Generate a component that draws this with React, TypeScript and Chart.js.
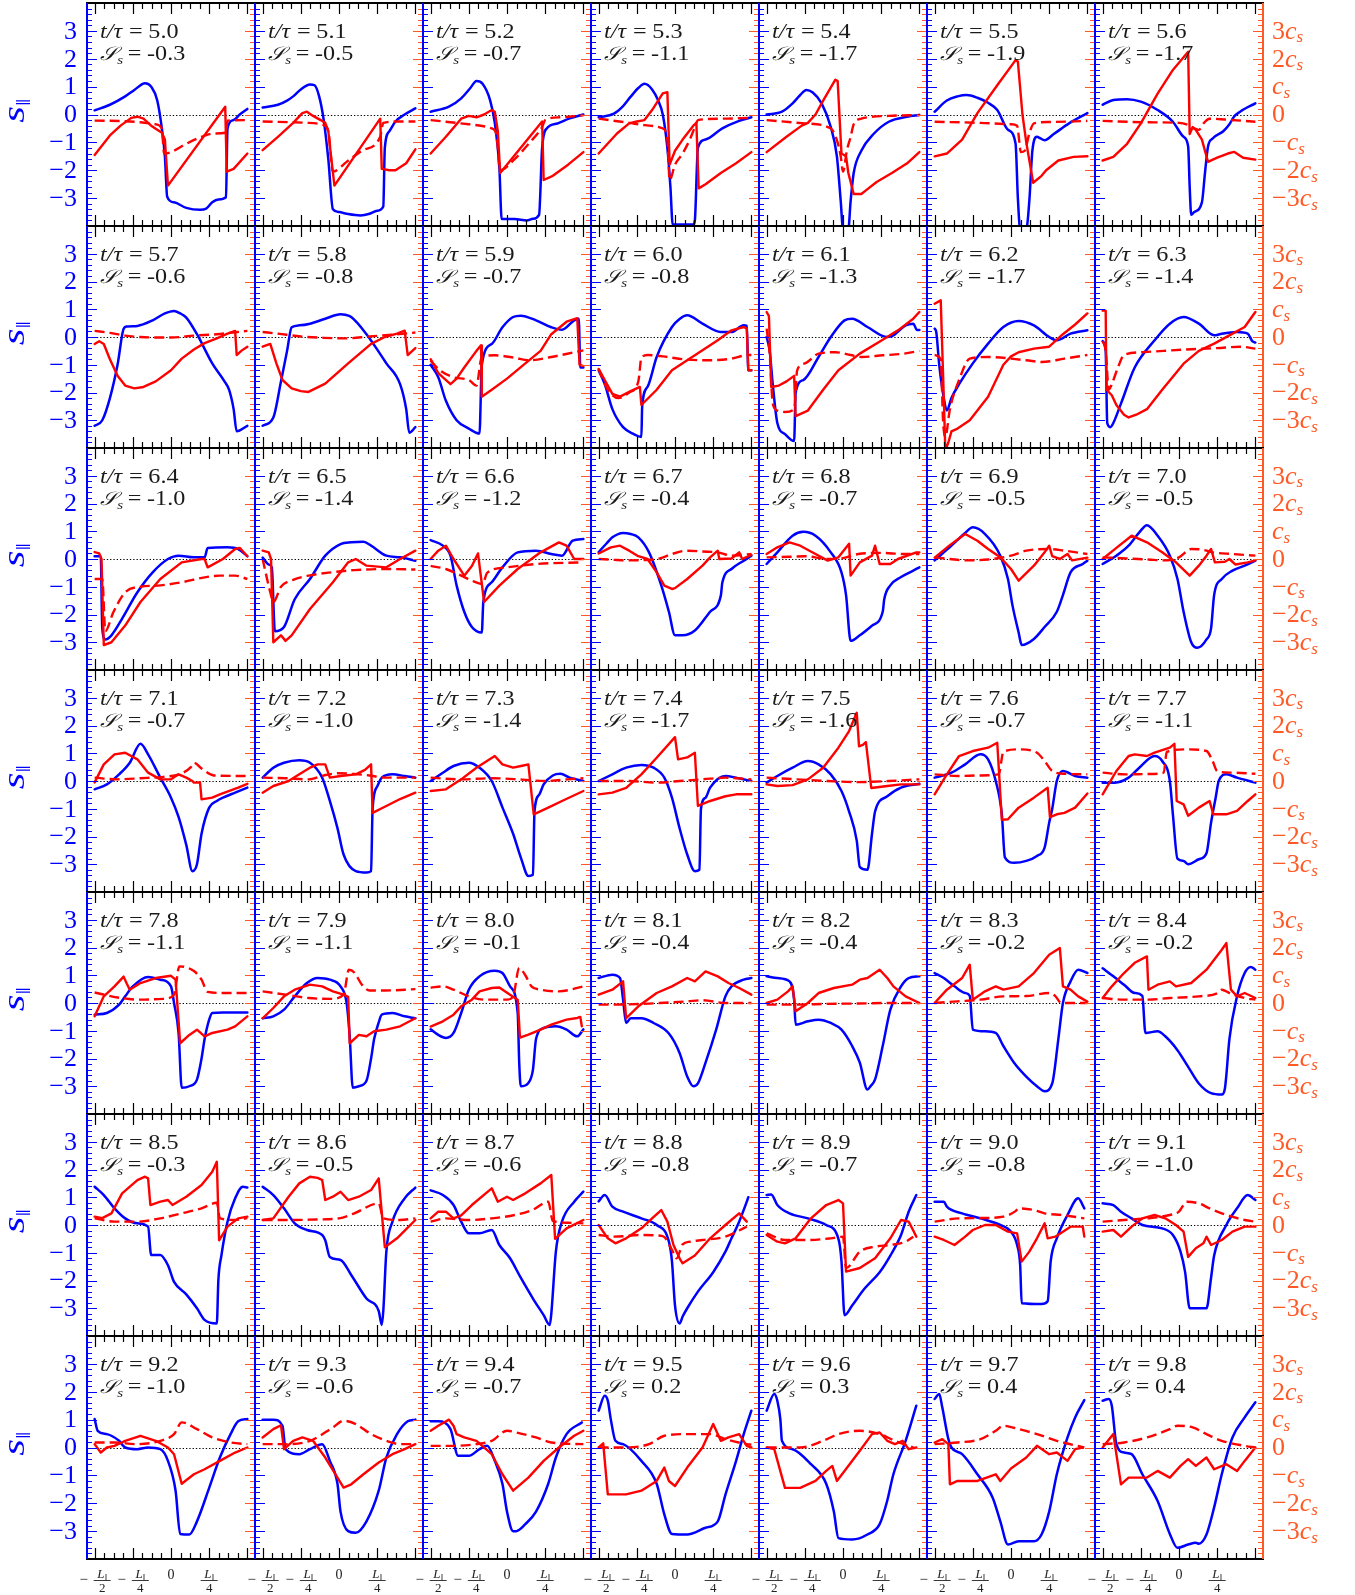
import React, { useEffect, useRef } from 'react';
import { Chart, registerables } from 'chart.js';
Chart.register(...registerables);

// ---------- labels ----------
const TIMES = ['5.0','5.1','5.2','5.3','5.4','5.5','5.6','5.7','5.8','5.9','6.0','6.1','6.2','6.3','6.4','6.5','6.6','6.7','6.8','6.9','7.0','7.1','7.2','7.3','7.4','7.5','7.6','7.7','7.8','7.9','8.0','8.1','8.2','8.3','8.4','8.5','8.6','8.7','8.8','8.9','9.0','9.1','9.2','9.3','9.4','9.5','9.6','9.7','9.8'];
const S_VALUES = ['-0.3','-0.5','-0.7','-1.1','-1.7','-1.9','-1.7','-0.6','-0.8','-0.7','-0.8','-1.3','-1.7','-1.4','-1.0','-1.4','-1.2','-0.4','-0.7','-0.5','-0.5','-0.7','-1.0','-1.4','-1.7','-1.6','-0.7','-1.1','-1.1','-1.1','-0.1','-0.4','-0.4','-0.2','-0.2','-0.3','-0.5','-0.6','-0.8','-0.7','-0.8','-1.0','-1.0','-0.6','-0.7','0.2','0.3','0.4','0.4'];
const LEFT_TICK_VALUES = [3, 2, 1, 0, -1, -2, -3];
const LEFT_TICK_LABELS = ['3', '2', '1', '0', '\u22121', '\u22122', '\u22123'];
const RIGHT_TICK_COEFS = ['3', '2', '', '0', '\u2212', '\u22122', '\u22123'];
const X_TICK_VALUES = [-50, -25, 0, 25];
const X_TICK_SIGNS = ['\u2212', '\u2212', '', ''];
const X_TICK_DENS = ['2', '4', '', '4'];

// ---------- series: flat [x, y, x, y, ...], x in units of L/100 ----------
const BLUE: number[][] = [
  [-50,.15,-40,.35,-30,.65,-24,.88,-17,1.12,-13,1,-9,.5,-6,-.5,-4,-1.5,-2.5,-2.95,2,-3.15,10,-3.35,19,-3.42,23,-3.38,27,-3.15,31,-3.05,36,-2.97,37,-.5,41,-.2,45,0,50,.2],
  [-50,.25,-40,.35,-34,.5,-30,.65,-25,.9,-19,1.08,-16,1.05,-13,.65,-10,-.2,-7,-1.6,-4,-3.4,0,-3.5,5,-3.56,14,-3.62,20,-3.56,25,-3.45,29,-3.3,30,-1.2,33,-.6,37,-.25,43,0,50,.22],
  [-50,.1,-38,.28,-30,.58,-24,.95,-20,1.2,-16,1.1,-11,.5,-8,-.3,-5,-1.9,-3.5,-3.75,5,-3.75,13,-3.8,17,-3.74,21,-3.6,23,-1.2,26,-.5,33,-.32,41,-.14,50,0],
  [-50,-.1,-40,.03,-34,.3,-29,.64,-24,.95,-20,1.1,-15,.9,-11,.5,-8,0,-5,-1.2,-3,-2.6,-1.5,-3.95,12,-3.95,13,-3.8,15,-1.2,20,-.9,31,-.5,42,-.23,50,-.1],
  [-50,0,-40,.1,-33,.4,-28,.7,-24,.88,-20,.8,-14,.4,-8,-.45,-4,-1.5,-1.5,-3.1,0,-4.1,3.5,-4.1,5,-3.1,7,-2.1,12,-1.3,20,-.7,30,-.26,42,-.08,50,-.02],
  [-50,.1,-42,.5,-35,.65,-29,.7,-22,.6,-15,.42,-9,.16,-2,-.55,3,-1.05,4.5,-3,6,-4.1,10,-4.1,12,-3.1,14,-1.3,17,-.8,19,-.85,22,-.92,28,-.7,38,-.32,50,.05],
  [-50,.35,-43,.52,-34,.55,-25,.46,-14,.16,-4,-.26,3,-.8,6,-1.15,7,-2.6,8,-3.6,10,-3.5,15,-3.15,17,-2.1,19,-1.15,22,-.86,29,-.6,33,-.35,36,-.08,40,.1,50,.4],
  [-50,-3.2,-45,-3,-40,-2.2,-35,-1,-31,.3,-29,.38,-22,.4,-12,.6,-4,.85,2,.94,6,.85,10,.7,17,.1,27,-.95,35,-1.6,38,-1.9,41,-2.6,43,-3.4,50,-3.2],
  [-50,-3.2,-43,-2.9,-38,-1.6,-34,-.5,-31,.35,-26,.42,-19,.48,-9,.66,1,.82,4,.8,8,.72,18,.1,31,-.95,40,-1.7,44,-2.6,46,-3.45,50,-3.25],
  [-50,-1,-45,-1.45,-40,-2.3,-33,-3,-25,-3.3,-18,-3.48,-16.5,-1,-10,-.25,-3,.35,4,.72,9,.77,19,.6,29,.35,36,.26,44,.6,47,.66,48,-1.1,50,-1.1],
  [-50,-1.2,-46,-1.7,-41,-2.6,-34,-3.25,-27,-3.5,-22,-3.6,-21.5,-2.5,-18,-1.8,-12,-.72,-2,.36,3,.65,8,.78,18,.48,30,.18,37,.18,45,.42,47,.4,48,-1.2,50,-1.2],
  [-50,0,-48,-.5,-46,-1.7,-43,-3.1,-38,-3.5,-32,-3.75,-31,-2,-26,-1.55,-16,-.72,-8,0,1,.6,6,.66,16,.36,29,0,33,.06,41,.42,46,.48,48.5,.25,50,.25],
  [-50,.3,-49,.2,-47,-1,-44,-2.2,-42,-2.65,-39,-2.2,-34,-1.7,-25,-.95,-15,-.24,-5,.36,5,.58,15,.42,25,0,30,-.12,39,.12,50,.24],
  [-50,-.15,-48,-.5,-47,-3.1,-45,-3.25,-43,-3.1,-38,-2.4,-29,-1.1,-16,-.12,-6,.48,3,.72,13,.48,23,.06,28,.12,38,.18,45,.12,48,-.15,50,-.2],
  [-50,.1,-46,.1,-45,-2.5,-43,-2.9,-39,-2.75,-32,-2.15,-22,-1.2,-12,-.48,-2,0,5,.12,15,.06,22,.06,24,.4,37,.42,44,.36,50,.1],
  [-50,.05,-46,-.2,-44,-.3,-42,-2.6,-36,-2.45,-29,-1.45,-19,-.72,-9,.12,1,.54,8,.6,16,.62,21,.48,31,.12,40,.06,50,-.06],
  [-50,.68,-42,.48,-37,.12,-33,-.95,-28,-1.9,-23,-2.45,-16.5,-2.65,-15.5,-1.55,-10,-.84,-3,-.3,7,.24,19,.3,29,.18,36,.12,43,.66,50,.72],
  [-50,.25,-45,.55,-41,.78,-34,.94,-29,.9,-24,.78,-17,.24,-9,-.95,-4,-1.9,0,-2.75,5,-2.75,13,-2.58,23,-1.9,30,-1.32,31,-.85,37,-.36,45,-.06,50,.12],
  [-50,-.18,-43,.24,-33,.84,-26,.98,-18,.84,-8,.24,-1,-.48,2,-1.3,5,-2.95,11,-2.75,19,-2.4,26,-1.9,27,-1.45,31,-.95,38,-.65,46,-.42,50,-.3],
  [-50,-.05,-39,.48,-30,.94,-25,1.14,-17,.9,-7,.12,-2,-.72,1,-1.68,5,-2.65,7,-3.1,15,-2.88,22,-2.45,30,-1.9,34,-1.3,39,-.48,47,-.18,50,-.06],
  [-50,-.18,-41,.12,-33,.48,-26,.96,-21,1.22,-14,.84,-6,.12,-1,-.72,3,-1.9,8,-3,12,-3.2,18,-2.9,21,-2.5,23,-1.3,28,-.72,35,-.42,43,-.24,50,-.06],
  [-50,-.3,-42,-.12,-34,.24,-27,.66,-20,1.34,-15,.96,-7,.12,0,-.6,5,-1.3,10,-2.3,14,-3.25,17,-3,20,-1.9,25,-.96,30,-.72,34,-.6,42,-.42,50,-.24],
  [-50,.12,-43,.48,-36,.66,-26,.75,-19,.66,-11,.12,-6,-.72,-1,-1.7,3,-2.65,11,-3.25,18,-3.3,21,-3.25,22,-1,25,-.2,28,.12,35,.24,43,.18,50,.12],
  [-50,0,-42,.3,-35,.54,-25,.66,-18,.48,-10,0,-3,-.95,4,-1.9,9,-2.75,14,-3.42,17,-3.38,18,-1.1,21,-.5,24,-.12,30,.2,35,.26,41,.12,50,0],
  [-50,0,-41,.24,-32,.48,-22,.58,-14,.48,-7,.12,-2,-.6,3,-1.7,8,-2.65,13,-3.25,16,-3.2,17,-1,20,-.6,23,-.24,33,.18,40,.12,50,0],
  [-50,-.06,-43,.18,-33,.48,-23,.72,-16,.6,-8,.24,-1,-.36,4,-1.1,9,-2.15,11,-3.1,16,-3.2,19,-1.9,21,-1.1,29,-.55,38,-.24,50,-.1],
  [-50,.12,-39,.3,-30,.6,-20,.96,-15,.78,-10,0,-6,-1.2,-4,-2.75,2,-2.95,10,-2.88,17,-2.7,22,-2.4,25,-1.5,27,-1,30,0,34,.36,42,.18,50,.12],
  [-50,-.06,-42,-.06,-33,.12,-26,.48,-16,.9,-11,.72,-6,0,-4,-1.2,-1,-2.8,3,-2.88,6,-3,13,-2.82,18,-2.6,21,-1.5,24,-.6,26,0,31,.24,38,.12,50,-.06],
  [-50,-.42,-42,-.36,-34,-.06,-30,.24,-25,.6,-15,.94,-7,.84,0,.6,2,0,5,-1.1,7,-3.05,12,-3,17,-2.76,20,-2,22,-1.3,25,-.6,27,-.36,34,-.34,50,-.34],
  [-50,-.55,-43,-.48,-36,-.24,-29,.24,-21,.72,-14,.9,-6,.84,1,.6,5,0,7,-1.2,9,-3.05,13,-3,18,-2.8,21,-2,23,-1.3,26,-.7,28,-.42,35,-.36,43,-.48,50,-.55],
  [-50,-.95,-45,-1.15,-40,-1.26,-35,-1.08,-30,-.36,-25,.48,-18,.96,-8,1.16,-3,1.08,2,.6,7,-.36,8,-2.15,9,-3,14,-2.88,17,-2.4,19,-1.3,24,-.9,32,-.84,39,-.96,46,-1.2,50,-.95],
  [-50,.9,-41,1.02,-36,.9,-34,.12,-32,-.72,-29,-.55,-22,-.55,-14,-.72,-4,-1.1,3,-1.8,8,-2.65,12,-3,15,-2.9,20,-2.15,27,-.95,33,.24,37,.6,45,.84,50,.9],
  [-50,.96,-43,.9,-35,.78,-32,.12,-31,-.78,-23,-.66,-16,-.6,-8,-.72,-1,-.96,6,-1.55,11,-2.15,16,-3.12,18,-3,21,-2.75,26,-1.55,31,-.24,38,.6,43,.9,50,.96],
  [-50,1.08,-44,.9,-37,.6,-30,.36,-27,.26,-25,-.96,-17,-1.02,-10,-1.08,-5,-1.55,2,-2.15,10,-2.65,17,-3,22,-3.18,27,-2.9,31,-1.3,34,0,39,.78,44,1.2,50,1.08],
  [-50,1.25,-43,.96,-36,.66,-29,.36,-24,.26,-22,-1.08,-14,-1.02,-9,-1.2,-1,-1.7,6,-2.3,13,-2.9,21,-3.25,28,-3.3,30,-3.1,31,-2.6,33,-1.3,38,.24,43,1.08,47,1.3,50,1.2],
  [-50,1.38,-44,1.08,-37,.6,-30,.24,-22,.06,-15,-.06,-13,-1.08,-7,-1.08,-2,-1.45,2,-2.05,10,-2.5,17,-3,22,-3.42,30,-3.55,31,-2,33,-1.1,37,.12,42,.96,47,1.38,50,1.35],
  [-50,1.38,-43,1.08,-36,.6,-29,.06,-21,-.18,-11,-.36,-9,-.55,-6,-1.15,1,-1.26,8,-1.8,18,-2.65,26,-3.1,28,-3.6,29,-3.1,31,-.96,35,.12,43,.96,50,1.35],
  [-50,1.25,-42,1.08,-35,.72,-30,.12,-25,-.3,-18,-.3,-10,-.18,-5,-.72,2,-1.2,9,-1.9,17,-2.65,24,-3.25,28,-3.6,29,-3.2,32,-.96,36,.12,44,.84,50,1.2],
  [-50,.85,-46,1.08,-41,.66,-34,.48,-22,.24,-12,0,-4,-.6,-2,-1.3,0,-2.9,3,-3.55,5,-3.3,8,-3,15,-2.4,25,-1.7,33,-.96,37,-.48,42,.12,47,.84,48,1],
  [-50,1.08,-47,1.1,-43,.72,-35,.42,-23,.24,-11,0,-3,-.5,-1,-1.3,1,-3.25,6,-2.9,14,-2.3,24,-1.7,31,-1.1,38,-.36,43,.48,48,1.08],
  [-50,.84,-44,.84,-42,.66,-32,.42,-20,.24,-7,0,0,-.24,4,-.72,6,-1.45,7,-2.82,20,-2.85,24,-2.75,26,-1.3,30,-.48,37,.36,44,.96,48,.6],
  [-50,.78,-43,.72,-38,.48,-31,.24,-24,0,-11,-.12,-4,-.36,1,-.96,4,-1.7,7,-3,13,-3,18,-3,21,-1.9,23,-1.1,31,0,38,.6,45,1.08,50,.9],
  [-50,1.02,-48,.6,-42,.48,-34,.24,-30,0,-22,-.06,-15,0,-7,-.06,-2,-.48,3,-1.55,6,-3.1,12,-3.12,17,-2.65,25,-1.45,32,-.36,39,.48,44,.94,50,1.02],
  [-50,1,-43,1,-37,.78,-35,-.06,-26,-.24,-19,-.06,-11,.12,-6,-.48,-1,-1.3,1,-2.3,6,-3,11,-3.06,18,-2.65,26,-1.55,31,-.36,38,.48,45,.94,50,1],
  [-50,.94,-45,.94,-37,.66,-32,-.3,-25,-.3,-18,-.06,-13,.06,-8,-.48,-3,-1.3,0,-2.3,4,-3,6,-3,12,-2.75,19,-2.3,27,-1.3,32,-.36,39,.48,49,.9],
  [-50,1.32,-46,1.86,-44,1.68,-42,1,-39,.24,-34,.12,-22,-.48,-12,-1.3,-7,-2.4,-2,-3.1,8,-3.12,20,-2.88,28,-2.65,33,-1.7,40,-.48,45,.48,50,1.32],
  [-50,1.32,-45,1.92,-43,1.68,-41,1,-40,.24,-33,-.06,-21,-.6,-11,-1.3,-6,-2.3,-3,-3.25,6,-3.3,16,-3.12,24,-2.75,29,-1.9,33,-.96,41,.24,48,1.5],
  [-50,1.74,-47,1.92,-45,1.44,-41,.3,-39,0,-32,-.24,-22,-.96,-12,-1.8,-7,-2.65,-2,-3.48,5,-3.36,15,-3.36,20,-3.12,25,-2.3,30,-.96,37,.36,42,1.08,48,1.7],
  [-50,1.68,-46,1.74,-44,1.5,-41,.12,-36,-.18,-31,-.24,-24,-.96,-14,-1.92,-6,-3.1,-1,-3.6,6,-3.48,11,-3.42,13,-3.45,18,-3.12,23,-2.15,28,-.96,35,.36,43,1.08,50,1.62],
];

const RED: number[][] = [
  [-50,-1.45,-40,-.75,-33,-.4,-26,-.12,-22,-.08,-18,-.15,-13,-.4,-9,-.55,-6,-.65,-4,-.9,-2,-2.55,35.5,.28,36.5,-2.05,41,-1.95,50,-1.4],
  [-50,-1.28,-40,-.8,-30,-.3,-24,.05,-21,.1,-17,-.05,-12,-.2,-9,-.3,-7,-.6,-5,-1.6,-3,-2.55,27,-.15,28,-1.95,33,-2,37,-2,44,-1.75,50,-1.25],
  [-50,-1.4,-40,-.8,-30,-.15,-25,-.05,-20,-.1,-15,0,-10,.16,-8,.1,-6,-.6,-4.5,-2.1,-3,-2,23,-.25,24,-2.35,30,-2.2,40,-1.8,50,-1.35],
  [-50,-1.4,-38,-.68,-30,-.32,-25,-.25,-20,-.2,-15,.16,-8,.76,-5,.8,-3.5,-1.8,0,-1.3,5,-.9,12,-.4,14,-.3,15.5,-2.65,20,-2.5,30,-2.1,40,-1.75,50,-1.35],
  [-50,-1.35,-37,-.8,-27,-.4,-23,-.3,-18,0,-13,.5,-5,1.25,-3.5,1.2,-1,-1.4,2,-1.5,3.5,-2.1,7,-2.85,12,-2.85,15,-2.72,22,-2.42,32,-2.1,42,-1.75,50,-1.35],
  [-50,-1.5,-42,-1.4,-32,-.9,-22,.05,-9,1.05,3,1.95,4.5,1.9,7.5,0,10,-1,14.5,-2.45,20,-2.2,23,-2,31,-1.65,41,-1.52,50,-1.5],
  [-50,-1.65,-43,-1.52,-34,-1.05,-25,-.32,-14,.75,-4,1.6,6,2.25,7,-.7,9,-.45,11,-.55,15,-.9,19,-1.7,25,-1.55,32,-1.4,36,-1.34,42,-1.55,50,-1.62],
  [-50,-.25,-47,-.15,-44,-.25,-40,-.8,-35,-1.4,-30,-1.75,-24,-1.85,-18,-1.8,-10,-1.6,0,-1.2,7,-.78,15,-.45,22,-.22,30,-.05,37,.12,42,.22,43,-.65,46,-.5,50,-.35],
  [-50,-.35,-45,-.25,-41,-.95,-37,-1.55,-31,-1.85,-25,-1.95,-20,-1.98,-9,-1.68,6,-.95,21,-.25,30,0,38,.12,43,.23,45,-.65,50,-.4],
  [-50,-.8,-45,-1.3,-37,-1.7,-33,-1.5,-28,-1.1,-20,-.5,-17,-.3,-16.5,-2.15,-10,-1.9,0,-1.5,12,-.95,22,-.5,29,.1,39,.55,46,.68,47.5,-1,50,-1.05],
  [-50,-1.15,-46,-1.55,-41,-2.05,-36,-2.15,-29,-1.95,-23,-1.8,-22,-2.45,-12,-1.9,-2,-1.2,13,-.66,28,-.12,37,.24,45,.36,47,.3,48,-1.2,50,-1.2],
  [-50,.9,-48.5,.75,-47,-1.8,-42,-1.75,-37,-1.6,-32,-1.4,-31,-2.85,-23,-2.65,-13,-1.9,-3,-1.2,11,-.6,26,-.1,36,.24,46,.66,50,.9],
  [-50,1.2,-46,1.32,-44,-2.2,-43,-4.1,-41,-3.8,-39,-3.4,-35,-3.3,-27,-3,-15,-2.15,-5,-1,0,-.7,5,-.55,15,-.42,25,-.35,34,.1,42,.45,50,.85],
  [-50,.95,-48,.95,-47.5,-1.9,-44,-2.1,-41,-2.45,-36,-2.8,-33,-2.9,-28,-2.8,-21,-2.6,-11,-1.9,3,-.96,13,-.5,23,-.24,33,.06,43,.36,50,.9],
  [-50,.25,-47,.2,-45.5,0,-44,-3.1,-39,-3,-30,-2.4,-20,-1.55,-7,-.72,7,-.12,20,0,22,0,24,-.3,34,0,42,.36,45,.4,50,.1],
  [-50,.3,-46,.24,-44.5,0,-43,-3,-38,-2.75,-35,-2.95,-31,-2.75,-19,-1.8,-4,-.84,6,-.12,11,0,18,-.24,31,-.3,40,0,50,.3],
  [-50,0,-45,.3,-40,.48,-35,0,-28,-.6,-23,-.25,-19,.2,-15,-1.55,-5,-.96,7,-.36,22,.24,34,.6,39,.48,44,0,50,0],
  [-50,.2,-42,.42,-36,.48,-30,.3,-24,.1,-18,0,-12,-.48,-7,-.96,-2,-1.08,0,-1.05,8,-.72,18,-.24,23,.06,28,.3,29,0,37,.02,42,.24,44,0,50,.15],
  [-50,.18,-43,.42,-35,.6,-28,.48,-18,.18,-10,-.06,-3,.06,4,.55,5,-.6,11,-.12,19,.12,21,.48,24,-.18,31,-.18,36,0,48,.24,50,.24],
  [-50,.05,-40,.5,-30,.9,-22,.66,-15,.36,-7,.06,0,-.36,5,-.78,15,-.24,22,.24,25,.48,27,.1,32,0,37,.18,40,-.05,50,.05],
  [-50,0,-41,.4,-31,.84,-21,.6,-11,.24,-2,-.12,7,-.6,13,-.24,18,.12,21,.36,23.5,-.12,30,-.1,33,0,37,-.2,45,-.12,50,-.05],
  [-50,-.05,-44,.6,-37,.96,-30,1.02,-22,.78,-15,.3,-7,.06,0,.06,5,.24,10,.12,14,0,15,-.06,19,-.05,20,-.66,27,-.6,32,-.48,44,-.24,50,-.1],
  [-50,-.42,-43,-.18,-33,0,-26,.24,-19,.48,-14,.6,-9,.6,-6,.12,1,.18,11,.24,17,.4,21,.6,22,-1.15,31,-.9,40,-.65,50,-.42],
  [-50,-.36,-40,-.3,-30,.06,-20,.48,-8,.9,-3,.6,4,.48,10,.55,14,.6,17.5,-1.2,27,-.96,36,-.72,50,-.36],
  [-50,-.48,-41,-.42,-32,-.25,-22,.24,-12,.84,0,1.58,2,.78,8,.85,13,1.02,15,-.9,23,-.72,33,-.55,40,-.48,50,-.48],
  [-50,-.12,-43,-.18,-33,-.15,-23,.06,-13,.48,-3,1.2,4,1.8,9,2.46,10.5,1.25,13,1.3,15,1.4,18.5,-.25,29,-.18,38,-.12,50,-.12],
  [-50,-.48,-42,.24,-34,.9,-25,1.08,-15,1.2,-9,1.38,-6,-1.4,-2,-1.38,5,-.96,15,-.6,24,-.24,25.5,-1.3,30,-1.2,35,-1.15,42,-.96,50,-.45],
  [-50,-.48,-41,.36,-33,.9,-29,.96,-21,.9,-16,1.02,-6,1.2,-3,1.34,-1.5,-.72,3,-.84,6,-1.25,13,-.96,20,-.72,22.5,-1.2,31,-1.2,38,-1.08,45,-.72,50,-.48],
  [-50,-.48,-44,.24,-37,.6,-31,.95,-29,.7,-27,.48,-20,.72,-10,.9,0,.98,3,.84,6,-1.45,12,-1.15,17,-.96,22,-1.2,27,-1.08,37,-.96,42,-.84,50,-.48],
  [-50,-.55,-43,-.18,-36,.24,-29,.48,-19,.66,-11,.6,-4,.42,3,.3,6,.22,7,-1.45,13,-1.15,18,-1.2,23,-1.02,31,-.96,40,-.84,50,-.55],
  [-50,-.85,-42,-.66,-35,-.42,-30,-.12,-23,.12,-18,.42,-10,.54,-5,.56,2,.3,7,.12,8.5,-1.25,14,-1.14,22,-.96,29,-.78,39,-.6,46,-.54,48,-.5,49,-.84],
  [-50,.3,-41,.48,-34,.78,-32,-.55,-24,-.12,-12,.36,-2,.6,8,.9,13,.78,20,1.14,28,.96,35,.72,42,.54,50,.3],
  [-50,0,-43,.12,-36,.42,-33,.6,-31,-.3,-23,0,-16,.36,-6,.54,6,.66,11,.84,16,.9,24,1.2,29,.9,33,.6,41,.24,50,0],
  [-50,0,-42,.48,-32,.9,-27,1.38,-25,.12,-17,.42,-10,.6,-5,.48,5,.6,15,1.08,25,1.74,32,1.98,34,.6,39,.48,44,.24,50,.05],
  [-50,.18,-44,.6,-36,1.08,-29,1.45,-21,1.68,-20,.48,-14,.66,-6,.78,-2,.6,8,.72,18,1.2,28,1.92,31,2.16,34,.48,38,.24,43,.36,50,.18],
  [-50,.3,-45,.25,-39,.42,-32,1.14,-22,1.62,-17,1.74,-15,1.68,-13.5,.72,-7,.84,-2,.9,1,.72,10,1.02,20,1.44,27,1.92,30,2.28,31.5,-.55,37,-.06,44,.24,50,.3],
  [-50,.18,-43,.24,-33,1.02,-26,1.5,-19,1.74,-14,1.7,-11,1.62,-9,.9,-4,1.02,1,1.2,6,.9,13,1.02,21,1.26,26,1.68,30,-.8,38,-.48,44,-.15,50,.18],
  [-50,.24,-45,.48,-40,.48,-35,.24,-30,.35,-23,.72,-10,1.32,-6,.84,0,1.02,4,.9,12,1.14,22,1.5,29,1.8,31.5,-.5,39,-.12,50,.18],
  [-50,0,-44,-.48,-39,-.66,-32,-.48,-22,-.12,-15,.24,-9,.54,-5,.12,-1,-.72,3,-1.2,5,-1.38,13,-1.1,23,-.48,33,0,42,.42,47,.12],
  [-50,-.36,-43,-.6,-38,-.66,-31,-.48,-21,.24,-11,.72,-3,.9,0,.78,2,-1.68,11,-1.55,21,-1.2,31,-.48,38,.18,43,.12,46,-.2,48,-.42],
  [-50,-.42,-44,-.54,-37,-.72,-30,-.42,-25,-.18,-17,0,-10,0,-2,-.24,4,-.3,7,-1.32,12,-.96,17,-.48,22,.06,24,-.48,29,-.42,34,-.24,39,-.06,47,-.06,48,-.42],
  [-50,-.24,-43,-.18,-38,-.42,-31,-.06,-24,.24,-16,.36,-9,.24,-2,0,3,-.24,6,-1.15,11,-.84,16,-.66,18,-.42,21,-.72,28,-.54,35,-.24,43,-.06,50,-.06],
  [-50,.12,-46,-.18,-42,0,-37,.06,-30,.24,-20,.42,-10,.24,-2,0,2,-.24,7,-1.3,15,-.96,22,-.78,32,-.48,42,-.18,50,0],
  [-50,.36,-43,.66,-38,.8,-36,-.06,-30,.24,-24,.36,-17,.24,-9,-.36,-1,-1.08,3,-1.44,8,-1.32,16,-.96,26,-.54,35,-.24,43,-.06,50,.12],
  [-50,.6,-45,.78,-38,1,-35,.78,-33,.48,-28,.36,-20,.24,-10,-.24,-3,-.96,4,-1.55,14,-1.08,24,-.48,34,0,44,.42,50,.6],
  [-50,0,-47,.15,-44,-1.68,-32,-1.68,-22,-1.55,-12,-1.2,-7,-.72,-4,-1.2,0,-1.38,8,-.72,18,0,25,.84,30,.24,35,.36,42,.48,47,.06,50,0],
  [-50,0,-45,-.06,-38,-1.45,-28,-1.45,-18,-1.2,-11,-.84,-7,-.66,-4,-1.2,1,-.84,11,-.12,19,.48,24,.54,29,.24,34,.12,39,.24,43,-.06,48,0],
  [-50,.18,-45,.3,-41,.12,-40,-1.32,-35,-1.2,-22,-1.2,-10,-.96,-7,-1.2,0,-.75,10,-.36,17,.06,25,-.24,30,-.18,37,-.48,42,-.06,47,0],
  [-50,0,-43,.48,-38,-1.32,-33,-1.08,-21,-1.08,-14,-.84,-6,-1.08,1,-.66,6,-.42,11,-.66,18,-.36,23,-.78,31,-.6,38,-.84,43,-.48,50,0],
];

const DASH: number[][] = [
  [-50,-.22,-30,-.24,-20,-.28,-10,-.35,-6,-.5,-4.5,-1.4,0,-1.35,10,-1.05,20,-.8,28,-.68,36,-.65,37,-.22,50,-.2],
  [-50,-.25,-20,-.3,-10,-.38,-7,-.6,-4,-2.05,5,-1.7,15,-1.3,27,-.8,29,-.3,40,-.25,50,-.25],
  [-50,-.2,-25,-.35,-10,-.5,-7,-.7,-4.5,-2,5,-1.6,15,-1,23,-.45,25,-.2,35,-.1,50,-.03],
  [-50,-.15,-30,-.3,-20,-.38,-8,-.5,-5,-.9,-3.5,-2.35,0,-1.8,5,-1.4,10,-.86,13,-.45,15,-.2,30,-.15,50,-.12],
  [-50,-.2,-25,-.32,-8,-.5,-4,-.92,-1.5,-1.5,0,-2.05,2.5,-1.3,5,-.8,7,-.35,12,-.15,30,-.05,50,-.02],
  [-50,-.26,-20,-.3,0,-.35,4,-.4,6.5,-1.35,9,-1.3,12,-.68,15,-.32,25,-.27,50,-.23],
  [-50,-.23,-20,-.28,0,-.3,7,-.4,10,-.5,13,-.55,16,-.32,20,-.15,30,-.18,50,-.26],
  [-50,.22,-40,.15,-30,.05,-20,0,0,-.02,15,.05,30,.1,42,.17,50,.22],
  [-50,.18,-40,.12,-25,.02,-10,-.03,5,-.05,20,.02,35,.08,50,.16],
  [-50,-.85,-44,-1.2,-35,-1.45,-25,-1.55,-20,-1.75,-16.5,-.72,-8,-.66,5,-.75,14,-.84,29,-.72,44,-.55,50,-.48],
  [-50,-1.15,-45,-1.8,-41,-2.1,-37,-2.2,-30,-2,-24,-1.6,-22,-.75,-18,-.65,-5,-.72,5,-.8,20,-.84,37,-.78,48,-.65,50,-.65],
  [-50,.3,-48,-.6,-46,-2.4,-43,-2.65,-38,-2.7,-32,-2.6,-30,-1.2,-25,-.95,-16,-.6,-5,-.55,5,-.65,12,-.72,26,-.66,40,-.6,50,-.5],
  [-50,-.65,-46,-.8,-44.5,-3,-43,-3.6,-40,-2.6,-34,-1.55,-27,-.78,-15,-.72,10,-.84,20,-.9,35,-.78,50,-.65],
  [-50,-.15,-48,-.5,-46,-1.9,-44,-1.7,-40,-1.1,-36,-.65,-25,-.55,-10,-.5,5,-.45,25,-.4,40,-.35,50,-.42],
  [-50,-.72,-45,-.72,-43,-2.6,-38,-1.95,-30,-1.2,-20,-1,-7,-.95,7,-.84,22,-.66,32,-.6,42,-.6,50,-.72],
  [-50,0,-45,-1.2,-43,-1.55,-38,-1,-30,-.75,-20,-.6,-5,-.48,10,-.4,30,-.36,50,-.38],
  [-50,-.25,-40,-.36,-30,-.6,-23,-.78,-16,-.9,-13,-.5,0,-.3,19,-.18,50,-.12],
  [-50,0,-40,-.03,-30,-.05,-20,-.04,-10,.02,-2,.18,8,.3,18,.27,28,.24,37,.12,50,.18],
  [-50,.06,-35,.08,-25,.1,-10,0,0,.03,10,.18,25,.22,40,.18,50,.18],
  [-50,.06,-40,0,-30,-.05,-15,-.02,0,.12,10,.3,25,.36,35,.3,50,.18],
  [-50,.06,-35,.02,-20,-.02,-10,-.05,0,.06,8,.36,15,.34,22,.24,35,.18,50,.12],
  [-50,.12,-35,.06,-20,.1,-5,.15,6,.25,13,.5,15,.66,20,.45,28,.2,50,.18],
  [-50,.12,-35,.1,-20,.06,-10,.2,0,.28,10,.25,20,.2,30,.12,50,.12],
  [-50,.12,-30,.06,-10,.1,10,.05,25,0,40,.06,50,.1],
  [-50,0,-30,0,-12,-.06,3,0,18,.06,33,.12,50,.06],
  [-50,.12,-30,.06,-10,0,10,-.04,30,0,50,.06],
  [-50,.24,-35,.18,-20,.2,-8,.25,-5,1.05,5,1.14,17,1.02,22,.72,27,.36,35,.26,50,.24],
  [-50,.3,-35,.24,-20,.25,-10,.3,-8,1.05,5,1.14,18,1.08,22,.72,25,.36,35,.3,50,.26],
  [-50,.38,-35,.2,-20,.12,-5,.15,2,.3,5.5,1.32,15,1.15,20,.84,24,.4,35,.36,50,.36],
  [-50,.42,-35,.3,-20,.18,-5,.15,3,.3,6.5,1.2,10,1.1,15,.66,20,.45,30,.45,50,.5],
  [-50,.55,-42,.6,-35,.48,-25,.24,-15,.12,0,.12,4,.24,8,1.26,12,1,16,.6,22,.48,34,.42,50,.6],
  [-50,-.06,-30,-.05,-10,0,8,.06,18,.1,33,0,50,0],
  [-50,-.06,-30,-.06,-10,-.03,10,-.02,30,0,50,0],
  [-50,0,-35,.06,-20,.12,-5,.24,10,.25,25,.36,29,.25,33,0,50,0],
  [-50,.18,-36,.12,-20,.12,-6,.18,13,.24,25,.35,28,.48,33,.36,43,.18,50,.12],
  [-50,.24,-37,.12,-22,.12,-7,.24,7,.42,20,.6,30,.8,32,.25,42,.18,50,.25],
  [-50,.18,-30,.18,-15,.2,0,.24,10,.42,26,.78,29,.24,40,.18,50,.24],
  [-50,.12,-40,.24,-25,.18,-10,.24,5,.36,17,.55,27,.84,30,.15,40,.08,50,.06],
  [-50,-.36,-40,-.42,-22,-.36,-8,-.4,-1,-1,1,-1.2,5,-.7,10,-.6,18,-.54,33,-.42,47,-.06],
  [-50,-.3,-38,-.54,-23,-.54,-8,-.48,0,-.42,2,-1.55,11,-.96,21,-.78,31,-.72,41,-.6,46,-.42],
  [-50,.12,-34,.24,-20,.25,-5,.3,3,.5,5,.6,15,.54,22,.42,34,.36,48,.24],
  [-50,.12,-36,.18,-21,.24,-6,.36,0,.48,5,.84,13,.78,20,.6,28,.42,43,.18,50,.12],
  [-50,.18,-37,.18,-22,.12,-7,.24,2,.48,7,.9,17,.66,27,.36,39,.18,50,.12],
  [-50,.12,-35,.12,-19,.24,-4,.72,3,.96,11,.84,21,.48,31,.24,40,.12,50,.12],
  [-50,.06,-35,.06,-20,.12,-10,.24,0,.6,9,.5,19,.36,29,.18,50,.12],
  [-50,0,-32,0,-17,.12,-7,.42,8,.48,23,.48,33,.3,47,.12,50,.1],
  [-50,0,-28,0,-13,.24,-3,.48,11,.6,24,.48,34,.24,46,0],
  [-50,.12,-35,.18,-20,.3,-10,.6,-5,.78,5,.66,17,.48,30,.24,48,0],
  [-50,.12,-36,.18,-21,.36,-6,.66,-1,.78,9,.72,18,.48,28,.24,43,.06,50,0],
];

// ---------- layout / style ----------
const NCOL = 7, NROW = 7;
const X0 = 86.7, PW = 168, Y0 = 3.3, PH = 222.2;
const PAGE_W = 1355, PAGE_H = 1595;
const BLUE_C = '#0000ff';
const RED_C = '#ff0000';
const ORANGE_C = '#ff5a26';
const FONT = '"Liberation Serif", "DejaVu Serif", serif';

function toPoints(flat: number[]) {
  const pts: { x: number; y: number }[] = [];
  for (let i = 0; i < flat.length; i += 2) pts.push({ x: flat[i], y: flat[i + 1] });
  return pts;
}

function geom(r: number, c: number) {
  const left = Math.round(X0 + PW * c), right = Math.round(X0 + PW * (c + 1));
  const top = Math.round(Y0 + PH * r), bottom = Math.round(Y0 + PH * (r + 1));
  const mL = c === 0 ? left : 10;
  const mR = c === NCOL - 1 ? PAGE_W - right : 10;
  const mT = r === 0 ? top : 10;
  const mB = r === NROW - 1 ? PAGE_H - bottom : 10;
  return { mL, mR, mT, mB, w: right - left + mL + mR, h: bottom - top + mT + mB, cx: left - mL, cy: top - mT };
}

function makeFramePlugin(r: number, c: number, idx: number) {
  return {
    id: 'frame' + idx,
    beforeDatasetsDraw(chart: any) {
      const { ctx, chartArea: ca, scales } = chart;
      const y0 = Math.round(scales.y.getPixelForValue(0)) + 0.5;
      ctx.save();
      ctx.strokeStyle = '#000';
      ctx.lineWidth = 1.1;
      ctx.setLineDash([1.3, 2]);
      ctx.beginPath();
      ctx.moveTo(ca.left, y0);
      ctx.lineTo(ca.right, y0);
      ctx.stroke();
      ctx.restore();
    },
    afterDatasetsDraw(chart: any) {
      const { ctx, chartArea: ca, scales } = chart;
      const xs = scales.x, ys = scales.y;
      ctx.save();
      ctx.setLineDash([]);
      // x ticks (top & bottom)
      ctx.strokeStyle = '#000';
      ctx.lineWidth = 1.2;
      ctx.beginPath();
      for (let k = -8; k <= 8; k++) {
        const px = Math.round(xs.getPixelForValue(k * 6.25)) + 0.5;
        const len = k % 4 === 0 ? 11 : 6;
        ctx.moveTo(px, ca.top); ctx.lineTo(px, ca.top + len);
        ctx.moveTo(px, ca.bottom); ctx.lineTo(px, ca.bottom - len);
      }
      ctx.stroke();
      // left (blue) ticks
      ctx.strokeStyle = BLUE_C;
      ctx.beginPath();
      for (let k = -19; k <= 19; k++) {
        const py = Math.round(ys.getPixelForValue(k * 0.2)) + 0.5;
        const len = k % 5 === 0 ? 10 : 5;
        ctx.moveTo(ca.left, py); ctx.lineTo(ca.left + len, py);
      }
      ctx.stroke();
      // right (orange) ticks
      ctx.strokeStyle = ORANGE_C;
      ctx.beginPath();
      for (let k = -19; k <= 19; k++) {
        const py = Math.round(ys.getPixelForValue(k * 0.2)) + 0.5;
        const len = k % 5 === 0 ? 10 : 5;
        ctx.moveTo(ca.right, py); ctx.lineTo(ca.right - len, py);
      }
      ctx.stroke();
      // spines
      ctx.lineWidth = 2;
      ctx.strokeStyle = '#000';
      ctx.beginPath();
      ctx.moveTo(ca.left - 1, ca.top); ctx.lineTo(ca.right + 1, ca.top);
      ctx.moveTo(ca.left - 1, ca.bottom); ctx.lineTo(ca.right + 1, ca.bottom);
      ctx.stroke();
      ctx.strokeStyle = ORANGE_C;
      ctx.beginPath(); ctx.moveTo(ca.right, ca.top); ctx.lineTo(ca.right, ca.bottom); ctx.stroke();
      ctx.strokeStyle = BLUE_C;
      ctx.beginPath(); ctx.moveTo(ca.left, ca.top); ctx.lineTo(ca.left, ca.bottom); ctx.stroke();

      // annotation (slightly widened text, like the reference)
      ctx.fillStyle = '#1a1a1a';
      ctx.textAlign = 'left';
      ctx.textBaseline = 'alphabetic';
      const ty1 = ca.top + 35, ty2 = ca.top + 57;
      ctx.save();
      ctx.translate(ca.left + 13, 0);
      ctx.scale(1.15, 1);
      let x = 0;
      ctx.font = `italic 21px ${FONT}`;
      ctx.fillText('t/\u03c4', x, ty1);
      x += ctx.measureText('t/\u03c4').width + 6;
      ctx.font = `21px ${FONT}`;
      ctx.fillText('=', x, ty1);
      x += ctx.measureText('=').width + 5;
      ctx.fillText(TIMES[idx], x, ty1);
      x = 0;
      ctx.font = `italic 19px ${FONT}`;
      ctx.fillText('\ud835\udcae', x, ty2);
      x += ctx.measureText('\ud835\udcae').width;
      ctx.font = `italic 13px ${FONT}`;
      ctx.fillText('s', x, ty2 + 4);
      x += ctx.measureText('s').width + 4;
      ctx.font = `21px ${FONT}`;
      ctx.fillText('=', x, ty2);
      x += ctx.measureText('=').width + 5;
      ctx.fillText(S_VALUES[idx], x, ty2);
      ctx.restore();

      // left axis labels + title
      if (c === 0) {
        ctx.fillStyle = BLUE_C;
        ctx.font = `26px ${FONT}`;
        ctx.textAlign = 'right';
        ctx.textBaseline = 'middle';
        LEFT_TICK_VALUES.forEach((v, i) => ctx.fillText(LEFT_TICK_LABELS[i], ca.left - 10, ys.getPixelForValue(v) + 1));
        ctx.save();
        ctx.translate(ca.left - 63, ys.getPixelForValue(0) - 4);
        ctx.rotate(-Math.PI / 2);
        ctx.scale(1.35, 1);
        ctx.textAlign = 'left';
        ctx.textBaseline = 'alphabetic';
        ctx.font = `italic 32px ${FONT}`;
        const w1 = ctx.measureText('s').width;
        ctx.font = `20px ${FONT}`;
        const w2 = ctx.measureText('\u2016').width;
        const start = -(w1 + w2) / 2;
        ctx.font = `italic 32px ${FONT}`;
        ctx.fillText('s', start, 0);
        ctx.font = `20px ${FONT}`;
        ctx.fillText('\u2016', start + w1, 6);
        ctx.restore();
      }
      // right axis labels
      if (c === NCOL - 1) {
        ctx.fillStyle = ORANGE_C;
        ctx.textAlign = 'left';
        ctx.textBaseline = 'middle';
        LEFT_TICK_VALUES.forEach((v, i) => {
          const py = ys.getPixelForValue(v) + 1;
          let xx = ca.right + 9;
          ctx.font = `26px ${FONT}`;
          if (v === 0) { ctx.fillText('0', xx, py); return; }
          const coef = RIGHT_TICK_COEFS[i];
          if (coef) { ctx.fillText(coef, xx, py); xx += ctx.measureText(coef).width; }
          ctx.font = `italic 26px ${FONT}`;
          ctx.fillText('c', xx, py);
          xx += ctx.measureText('c').width;
          ctx.font = `italic 17px ${FONT}`;
          ctx.fillText('s', xx, py + 6);
        });
      }
      // bottom x labels
      if (r === NROW - 1) {
        ctx.fillStyle = '#222';
        ctx.strokeStyle = '#222';
        ctx.lineWidth = 0.9;
        const barY = ca.bottom + 21.5;
        X_TICK_VALUES.forEach((v, i) => {
          const px = xs.getPixelForValue(v);
          if (v === 0) {
            ctx.font = `14px ${FONT}`;
            ctx.textAlign = 'center';
            ctx.textBaseline = 'middle';
            ctx.fillText('0', px, ca.bottom + 16);
            return;
          }
          const sign = X_TICK_SIGNS[i];
          const fx = sign ? px + 7.5 : px;
          if (sign) {
            ctx.font = `15px ${FONT}`;
            ctx.textAlign = 'center';
            ctx.textBaseline = 'middle';
            ctx.fillText(sign, px - 11, barY);
          }
          ctx.textBaseline = 'alphabetic';
          ctx.textAlign = 'left';
          ctx.font = `italic 13px ${FONT}`;
          const wl = ctx.measureText('L').width;
          ctx.font = `9px ${FONT}`;
          const wp = ctx.measureText('\u2016').width;
          const nx = fx - (wl + wp) / 2;
          ctx.font = `italic 13px ${FONT}`;
          ctx.fillText('L', nx, barY - 3);
          ctx.font = `9px ${FONT}`;
          ctx.fillText('\u2016', nx + wl, barY - 1);
          ctx.beginPath();
          ctx.moveTo(fx - 8.5, barY); ctx.lineTo(fx + 8.5, barY);
          ctx.stroke();
          ctx.font = `13px ${FONT}`;
          ctx.textAlign = 'center';
          ctx.fillText(X_TICK_DENS[i], fx, barY + 11);
        });
      }
      ctx.restore();
    },
  };
}

export default function App() {
  const refs = useRef<(HTMLCanvasElement | null)[]>([]);

  useEffect(() => {
    const charts: Chart[] = [];
    for (let idx = 0; idx < NROW * NCOL; idx++) {
      const cv = refs.current[idx];
      if (!cv) continue;
      const r = Math.floor(idx / NCOL), c = idx % NCOL;
      const g = geom(r, c);
      const common = { pointRadius: 0, fill: false, clip: 0, borderJoinStyle: 'round' };
      const chart = new Chart(cv, {
        type: 'line',
        data: {
          datasets: [
            { ...common, data: toPoints(RED[idx]), borderColor: RED_C, borderWidth: 2.4, borderCapStyle: 'round', tension: 0, order: 0 } as any,
            { ...common, data: toPoints(DASH[idx]), borderColor: RED_C, borderWidth: 2.4, borderDash: [10, 5], borderCapStyle: 'butt', cubicInterpolationMode: 'monotone', order: 1 } as any,
            { ...common, data: toPoints(BLUE[idx]), borderColor: BLUE_C, borderWidth: 2.5, borderCapStyle: 'round', cubicInterpolationMode: 'monotone', order: 2 } as any,
          ],
        },
        options: {
          animation: false,
          responsive: false,
          maintainAspectRatio: false,
          devicePixelRatio: 1,
          events: [],
          layout: { padding: { left: g.mL, right: g.mR, top: g.mT, bottom: g.mB } },
          plugins: { legend: { display: false }, tooltip: { enabled: false }, title: { display: false } },
          scales: {
            x: { type: 'linear', min: -55, max: 55, display: false },
            y: { type: 'linear', min: -4, max: 4, display: false },
          },
        },
        plugins: [makeFramePlugin(r, c, idx)],
      });
      charts.push(chart);
    }
    return () => charts.forEach((ch) => ch.destroy());
  }, []);

  const cells: React.ReactNode[] = [];
  for (let idx = 0; idx < NROW * NCOL; idx++) {
    const r = Math.floor(idx / NCOL), c = idx % NCOL;
    const g = geom(r, c);
    cells.push(
      <canvas
        key={idx}
        ref={(el) => { refs.current[idx] = el; }}
        width={g.w}
        height={g.h}
        style={{ position: 'absolute', left: g.cx, top: g.cy, width: g.w, height: g.h }}
      />
    );
  }
  return (
    <div style={{ position: 'absolute', left: 0, top: 0, width: PAGE_W, height: PAGE_H, background: '#fff', overflow: 'hidden' }}>
      {cells}
    </div>
  );
}
